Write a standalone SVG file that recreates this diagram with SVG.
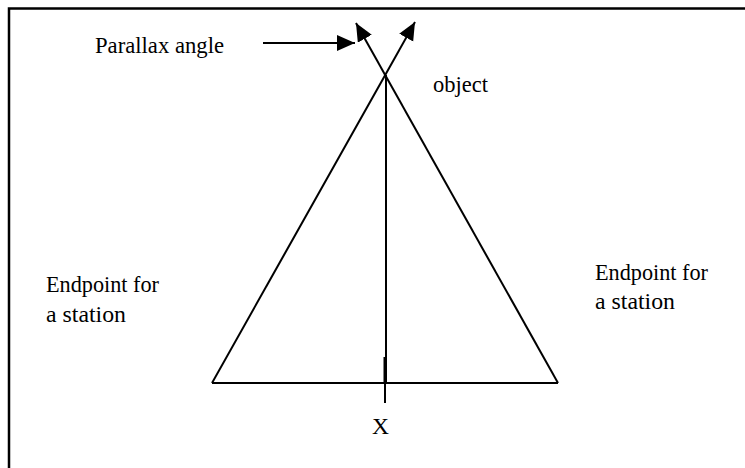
<svg xmlns="http://www.w3.org/2000/svg" width="745" height="468" viewBox="0 0 745 468">
<style>
  .ln { stroke: #000; stroke-width: 2; fill: none; }
</style>
<defs>
  <marker id="ah" markerUnits="userSpaceOnUse" markerWidth="20" markerHeight="20" refX="18" refY="8" orient="auto">
    <path d="M0,0 L18,8 L0,16 Z" fill="#000"/>
  </marker>
</defs>
<rect width="745" height="468" fill="#fff"/>
<g id="frame">
  <path d="M9,468 L9,8.5 L745,8.5" stroke="#000" stroke-width="2.5" fill="none"/>
</g>
<g id="connectors">
  <line class="ln" x1="212" y1="383" x2="415" y2="22" marker-end="url(#ah)"/>
  <line class="ln" x1="558" y1="383" x2="356" y2="23" marker-end="url(#ah)"/>
  <line class="ln" x1="212" y1="383" x2="558" y2="383"/>
  <line class="ln" x1="386" y1="75" x2="386" y2="383"/>
  <line stroke="#000" stroke-width="3" x1="385" y1="357" x2="385" y2="383"/>
  <line class="ln" x1="385" y1="383" x2="385" y2="403"/>
  <line class="ln" x1="263" y1="43" x2="355" y2="43" marker-end="url(#ah)"/>
</g>
<g font-family="Times New Roman, Liberation Serif, Tinos, DejaVu Serif, serif" font-size="24" fill="#000">
<g id="parallax-label"><text x="95" y="53" textLength="129" lengthAdjust="spacingAndGlyphs">Parallax angle</text></g>
<g id="object-label"><text x="433" y="92" textLength="55" lengthAdjust="spacingAndGlyphs">object</text></g>
<g id="left-endpoint">
  <text x="46" y="292" textLength="113" lengthAdjust="spacingAndGlyphs">Endpoint for</text>
  <text x="46" y="322" textLength="80" lengthAdjust="spacingAndGlyphs">a station</text>
</g>
<g id="right-endpoint">
  <text x="595" y="280" textLength="113" lengthAdjust="spacingAndGlyphs">Endpoint for</text>
  <text x="595" y="309" textLength="80" lengthAdjust="spacingAndGlyphs">a station</text>
</g>
<g id="x-label"><text x="372" y="434" textLength="17" lengthAdjust="spacingAndGlyphs">X</text></g>
</g>
</svg>
